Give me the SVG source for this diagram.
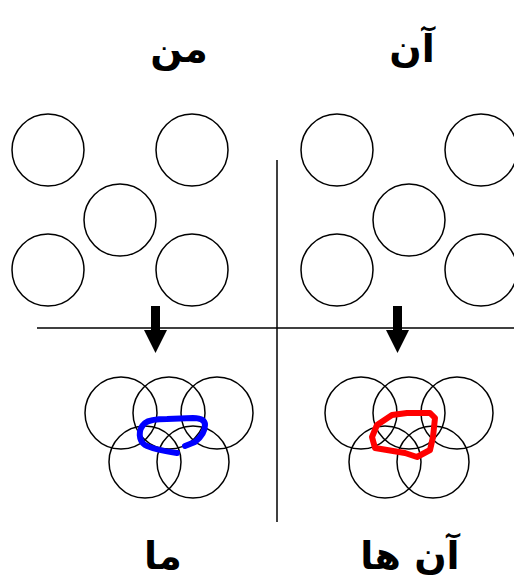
<svg xmlns="http://www.w3.org/2000/svg" width="514" height="580" viewBox="0 0 514 580">
<style>
.c{fill:none;stroke:#000;stroke-width:1.5}
.t{font-family:"DejaVu Sans",sans-serif;font-weight:bold;font-size:38px;fill:#000;text-anchor:middle}
.ln{stroke:#000;stroke-width:1.5;fill:none}
</style>
<rect width="514" height="580" fill="#fff"/>
<g id="labels">
<text class="t" x="179" y="62" direction="rtl">من</text>
<text class="t" x="412" y="62" direction="rtl">آن</text>
<text class="t" x="163" y="569" direction="rtl">ما</text>
<text class="t" x="410" y="569" direction="rtl">آن ها</text>
</g>
<g id="group-me">
<circle class="c" cx="48" cy="150" r="36"/>
<circle class="c" cx="192" cy="150" r="36"/>
<circle class="c" cx="120" cy="220" r="36"/>
<circle class="c" cx="48" cy="270" r="36"/>
<circle class="c" cx="192" cy="270" r="36"/>
</g>
<g id="group-they">
<circle class="c" cx="337" cy="150" r="36"/>
<circle class="c" cx="481" cy="150" r="36"/>
<circle class="c" cx="409" cy="220" r="36"/>
<circle class="c" cx="337" cy="270" r="36"/>
<circle class="c" cx="481" cy="270" r="36"/>
</g>
<g id="group-we">
<circle class="c" cx="121" cy="413" r="36"/>
<circle class="c" cx="169" cy="413" r="36"/>
<circle class="c" cx="217" cy="413" r="36"/>
<circle class="c" cx="145" cy="462" r="36"/>
<circle class="c" cx="193" cy="462" r="36"/>
<path d="M177,453 C170,452 152,449 145,445 C139,441 137,430 145,423 C150,419 160,419 167,419 L193,418 C200,418 205,420 205,425 C205,432 200,438 195,442 L185,446" fill="none" stroke="#0000ff" stroke-width="6" stroke-linecap="round" stroke-linejoin="round"/>
</g>
<g id="group-them">
<circle class="c" cx="361" cy="413" r="36"/>
<circle class="c" cx="409" cy="413" r="36"/>
<circle class="c" cx="457" cy="413" r="36"/>
<circle class="c" cx="385" cy="462" r="36"/>
<circle class="c" cx="433" cy="462" r="36"/>
<path d="M375,448 L372,437 L377,425 L392,415 L407,413 L430,413 L435,418 L433,437 L430,450 L417,457 L405,453 Z" fill="none" stroke="#ff0000" stroke-width="6" stroke-linejoin="round"/>
</g>
<g id="connectors">
<line class="ln" x1="277" y1="160" x2="277" y2="522"/>
<line class="ln" x1="37" y1="328" x2="514" y2="328"/>
<rect x="151" y="306" width="9" height="26" fill="#000"/>
<polygon points="144,330 167,330 155.5,353" fill="#000"/>
<rect x="393" y="306" width="9" height="26" fill="#000"/>
<polygon points="386,330 409,330 397.5,353" fill="#000"/>
</g>
</svg>
